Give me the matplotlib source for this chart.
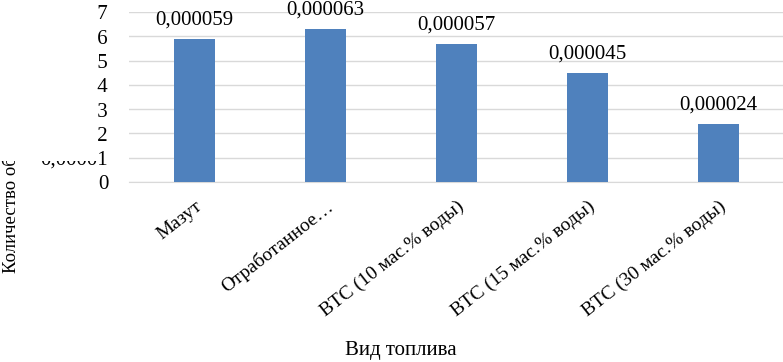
import matplotlib.pyplot as plt
from matplotlib.patches import Rectangle

plt.rcParams['font.family'] = ['Liberation Serif', 'DejaVu Serif']

categories = ['Мазут', 'Отработанное…', 'ВТС (10 мас.% воды)',
              'ВТС (15 мас.% воды)', 'ВТС (30 мас.% воды)']
values = [0.000059, 0.000063, 0.000057, 0.000045, 0.000024]
y_ticks = [0, 0.00001, 0.00002, 0.00003, 0.00004, 0.00005, 0.00006, 0.00007]
y_tick_labels = ['0', '0,00001', '0,00002', '0,00003', '0,00004',
                 '0,00005', '0,00006', '0,00007']

W, H = 783, 362
fig = plt.figure(figsize=(W / 100, H / 100), dpi=100)
# оси в пикселях: слева 129, справа 784, верх 12, низ 182
ax = fig.add_axes([129 / W, 1 - 182 / H, (784 - 129) / W, (182 - 12) / H])

x = range(len(categories))
ax.bar(x, values, width=0.306, color='#4F81BD', zorder=3)
ax.set_xlim(-0.5, len(categories) - 0.5)
ax.set_ylim(0, 0.00007)

ax.set_yticks(y_ticks)
ax.set_yticklabels(y_tick_labels, fontsize=15)
ax.set_xticks(list(x))
ax.set_xticklabels(categories, rotation=38, ha='right', rotation_mode='anchor', fontsize=14)
ax.tick_params(axis='y', length=0, pad=15)
ax.tick_params(axis='x', length=0, pad=11)

ax.grid(axis='y', color='#D9D9D9', linewidth=1, zorder=0)
for s in ['top', 'right', 'left']:
    ax.spines[s].set_visible(False)
ax.spines['bottom'].set_color('#D9D9D9')

# подписи значений
for a, b in zip(x, values):
    ax.text(a, b + 0.0000037, ('%.6f' % b).replace('.', ','), ha='center', va='bottom',
            fontsize=15, clip_on=False)

fig.text(401 / W, 1 - 351 / H, 'Вид топлива', ha='center', va='center', fontsize=15)
fig.text(11 / W, 1 - 273 / H, 'Количество образовавшихся', rotation=90,
         ha='center', va='bottom', fontsize=13.5)

# белая область, закрывающая часть подписей (как в исходнике)
fig.add_artist(Rectangle((0, 1 - 161 / H), 97 / W, 161 / H, transform=fig.transFigure,
                         facecolor='white', edgecolor='none', zorder=10))

fig.savefig('out.png', dpi=100)
